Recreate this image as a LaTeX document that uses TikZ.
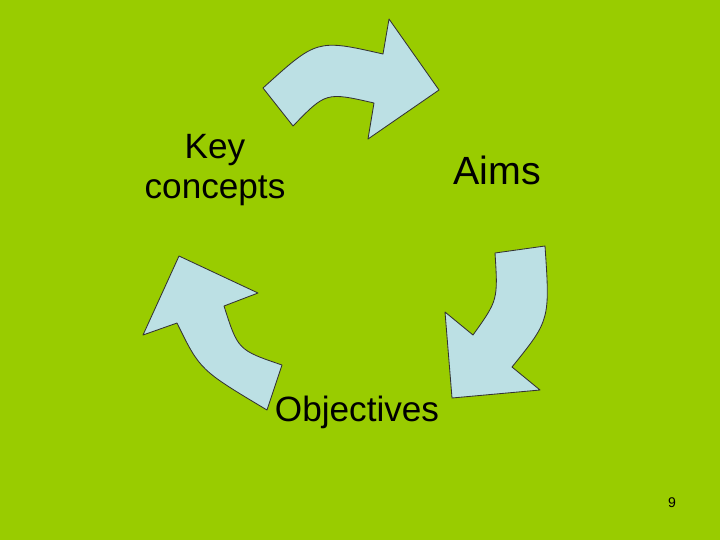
\documentclass[tikz,border=0pt]{standalone}
\usepackage{fontspec}
\setmainfont{Liberation Sans}
\usetikzlibrary{positioning}
\definecolor{slidegreen}{RGB}{153,204,0}
\definecolor{arrowblue}{RGB}{188,224,228}
\tikzset{
  cyclearrow/.style={fill=arrowblue, draw=black!80, line width=0.6pt, line join=round},
  label/.style={text centered, font=\fontsize{25}{29}\selectfont, align=center}
}
\begin{document}
\begin{tikzpicture}[x=0.025cm, y=-0.025cm]
        % background %
        \fill[slidegreen] (0,0) rectangle (720,540);
        \useasboundingbox (0,0) rectangle (720,540);

        % arrows %
        \draw[cyclearrow] (263,88) .. controls (317,39) .. (383,54) -- (389,19)
          -- (439,90) -- (368,139) -- (374,103) .. controls (326,92) .. (293,126) -- cycle;
        \draw[cyclearrow] (545,246) .. controls (550,320) .. (512,367) -- (540,390)
          -- (452,398) -- (445,312) -- (473,335) .. controls (498,300) .. (495,253) -- cycle;
        \draw[cyclearrow] (267,410) .. controls (200,370) .. (177,323) -- (143,335)
          -- (179,256) -- (258,293) -- (224,306) .. controls (238,350) .. (282,365) -- cycle;

        % nodes %
        \node[label] (key) at (215,170) {Key\\concepts};
        \node[label, font=\fontsize{28}{32}\selectfont] (aims) at (497,170) {Aims};
        \node[label] (obj) at (357,412) {Objectives};
        \node[font=\fontsize{10}{12}\selectfont] (page) at (672,503) {9};
\end{tikzpicture}
\end{document}
